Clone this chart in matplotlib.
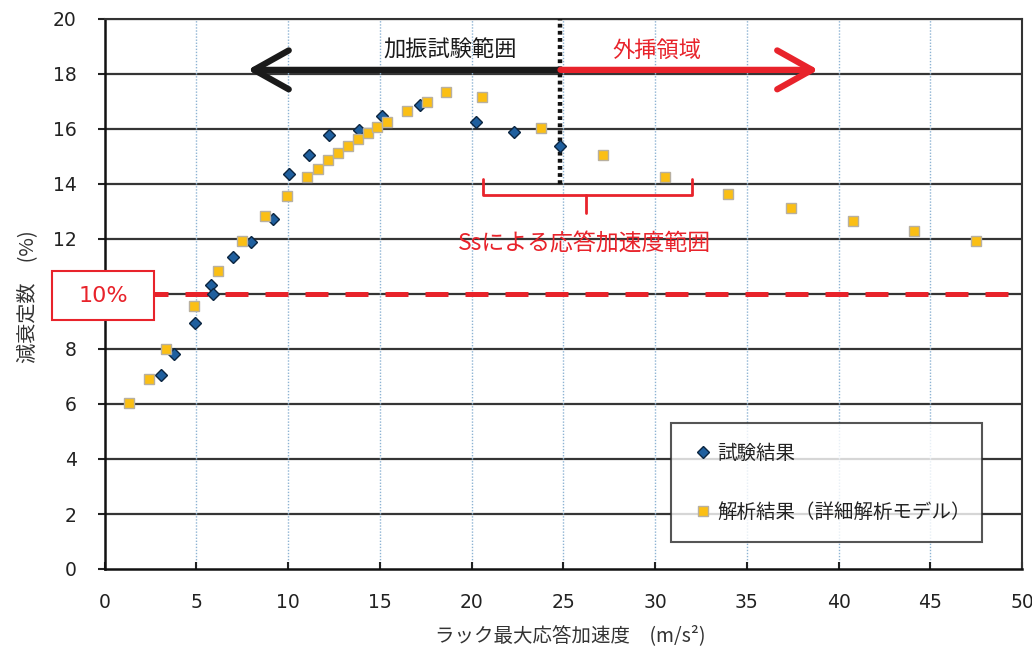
import matplotlib
matplotlib.use("Agg")
import matplotlib.pyplot as plt
from matplotlib.patches import Rectangle

# ---- data ----
test_x = [3.08, 3.79, 4.93, 5.80, 5.90, 7.00, 7.97, 9.18, 10.07, 11.14, 12.23,
          13.87, 15.14, 17.18, 20.26, 22.33, 24.82]
test_y = [7.07, 7.82, 8.96, 10.33, 9.99, 11.33, 11.88, 12.72, 14.36, 15.07, 15.77,
          15.95, 16.46, 16.88, 16.24, 15.88, 15.38]

anal_x = [1.32, 2.44, 3.34, 4.86, 6.17, 7.48, 8.73, 9.93, 11.02, 11.62, 12.20,
          12.74, 13.29, 13.83, 14.36, 14.87, 15.40, 16.47, 17.56, 18.61, 20.56,
          23.77, 27.17, 30.53, 33.98, 37.40, 40.77, 44.13, 47.51]
anal_y = [6.05, 6.91, 7.99, 9.57, 10.85, 11.94, 12.83, 13.57, 14.27, 14.56, 14.86,
          15.14, 15.37, 15.64, 15.84, 16.06, 16.24, 16.65, 16.99, 17.36, 17.15,
          16.03, 15.07, 14.27, 13.64, 13.12, 12.65, 12.29, 11.93]

x_ticks = list(range(0, 51, 5))
y_ticks = list(range(0, 21, 2))
threshold = 10
test_range_end = 24.85
arrow_left = 7.8
arrow_right = 38.9
arrow_y = 18.15
ss_left, ss_center, ss_right = 20.6, 26.24, 32.0

label_test = "試験結果"
label_anal = "解析結果（詳細解析モデル）"
xlabel = "ラック最大応答加速度　(m/s²)"
ylabel = "減衰定数　(%)"

RED = "#e8232b"
CJK = ["Noto Sans CJK JP", "DejaVu Sans"]

W, H = 1032, 651
fig = plt.figure(figsize=(W / 100, H / 100), dpi=100)
ax = fig.add_axes([104.5 / W, 1 - 569 / H, (1022 - 104.5) / W, (569 - 19) / H])

ax.set_xlim(0, 50)
ax.set_ylim(0, 20)
ax.set_xticks(x_ticks)
ax.set_yticks(y_ticks)

# grid
for yv in y_ticks[1:]:
    ax.axhline(yv, color="#353535", lw=1.6, zorder=1)
for xv in x_ticks[1:-1]:
    ax.axvline(xv, color="#8db3d3", lw=1.0, ls=(0, (1, 1.2)), zorder=1)

for side in ["left", "bottom"]:
    ax.spines[side].set_linewidth(1.8)
    ax.spines[side].set_color("#111111")
for side in ["right", "top"]:
    ax.spines[side].set_linewidth(1.5)
    ax.spines[side].set_color("#333333")

ax.tick_params(axis="y", direction="out", length=5, width=1.5, pad=15,
               labelsize=13.5, colors="#222222")
ax.tick_params(axis="x", direction="in", length=5, width=1.5, pad=17,
               labelsize=13.5, colors="#222222")

# threshold line
ax.axhline(threshold, color=RED, lw=3.6, ls=(0, (4.6, 3.4)), zorder=2)

# vertical dotted boundary
ax.plot([test_range_end, test_range_end], [14.0, 20], color="#111111", lw=3.2,
        ls=(0, (0.85, 0.75)), zorder=3, solid_capstyle="butt")

# data
ax.plot(test_x, test_y, ls="none", marker="D", ms=6.2, mfc="#1f5f9e",
        mec="#0b2540", mew=1.0, zorder=4, label=label_test)
ax.plot(anal_x, anal_y, ls="none", marker="s", ms=7.0, mfc="#fbbf14",
        mec="#b8b0a0", mew=1.0, zorder=5, label=label_anal)

# arrows
ax.annotate("", xy=(arrow_left, arrow_y), xytext=(test_range_end, arrow_y),
            arrowprops=dict(arrowstyle="->,head_length=1.25,head_width=0.7",
                            mutation_scale=20, lw=4.5, color="#1a1a1a",
                            shrinkA=0, shrinkB=0, capstyle="round"),
            zorder=6)
ax.annotate("", xy=(arrow_right, arrow_y), xytext=(test_range_end, arrow_y),
            arrowprops=dict(arrowstyle="->,head_length=1.25,head_width=0.7",
                            mutation_scale=20, lw=4.5, color=RED,
                            shrinkA=0, shrinkB=0, capstyle="round"),
            zorder=6)
ax.text(18.83, 18.87, "加振試験範囲", family=CJK, fontsize=16, color="#1a1a1a",
        ha="center", va="center", zorder=7)
ax.text(30.08, 18.87, "外挿領域", family=CJK, fontsize=16, color=RED,
        ha="center", va="center", zorder=7)

# brace for Ss range
ax.plot([ss_left, ss_left, ss_center, ss_center], [14.18, 13.6, 13.6, 12.95],
        color=RED, lw=2.0, solid_joinstyle="round", solid_capstyle="round", zorder=6)
ax.plot([ss_center, ss_right, ss_right], [13.6, 13.6, 14.18],
        color=RED, lw=2.0, solid_joinstyle="round", solid_capstyle="round", zorder=6)
ax.text(26.13, 11.8, "Ssによる応答加速度範囲", family=CJK, fontsize=16.5, color=RED,
        ha="center", va="center", zorder=7)

# legend
leg = ax.legend(loc="upper left", bbox_to_anchor=(0.617, 0.0436, 0.339, 0.2214),
                mode="expand", borderaxespad=0, prop={"family": CJK, "size": 14},
                frameon=True, fancybox=False, borderpad=1.0, labelspacing=1.95,
                handlelength=1.3, handletextpad=0.1, labelcolor="#222222")
leg.get_frame().set_edgecolor("#2a2a2a")
leg.get_frame().set_linewidth(1.5)
leg.set_zorder(8)

# 10% box
box = Rectangle((52 / W, 1 - 320 / H), 102 / W, 49 / H, transform=fig.transFigure,
                facecolor="white", edgecolor=RED, lw=1.5, zorder=10)
fig.add_artist(box)
fig.text(103 / W, 1 - 296 / H, f"{threshold}%", fontsize=16, color=RED,
         ha="center", va="center", zorder=11, family="DejaVu Sans")

# axis labels
fig.text(570 / W, 1 - 636 / H, xlabel, family=CJK, fontsize=14, color="#333333",
         ha="center", va="center")
fig.text(29 / W, 1 - 297 / H, ylabel, family=CJK, fontsize=14.5, color="#333333",
         ha="center", va="center", rotation=90)

fig.savefig("out.png", dpi=100)
